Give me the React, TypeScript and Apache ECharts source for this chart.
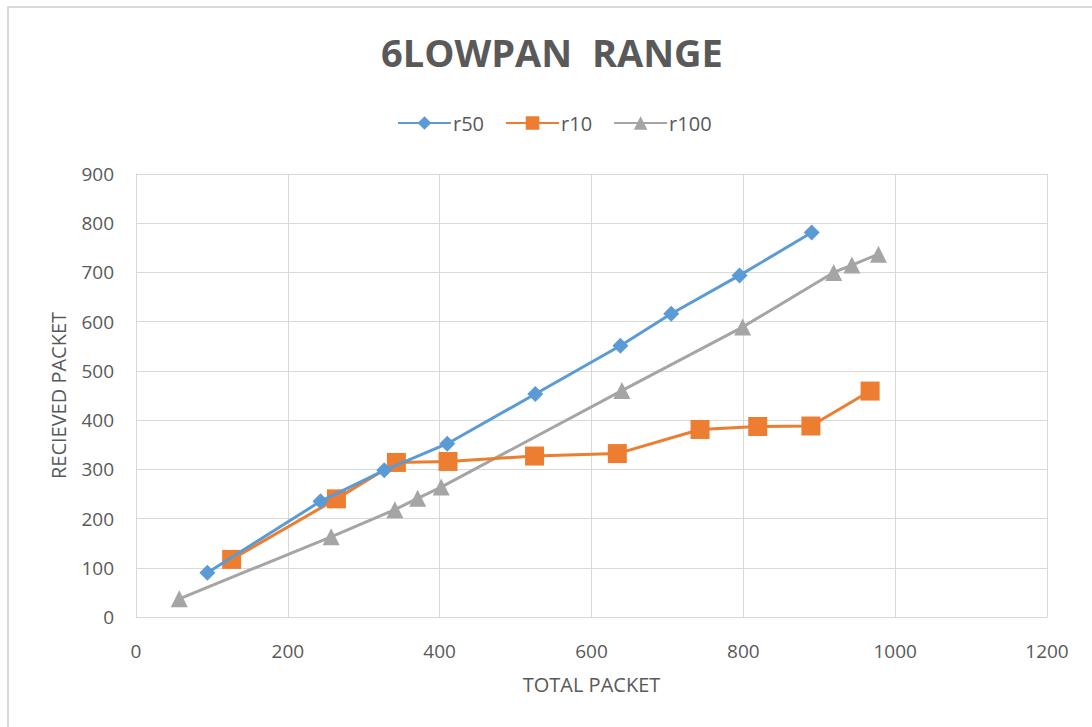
import React, { useEffect, useRef } from "react";
import * as echarts from "echarts";

const titleText = "6LOWPAN  RANGE";
const xAxisName = "TOTAL PACKET";
const yAxisName = "RECIEVED PACKET";
const seriesNames = ["r50", "r10", "r100"];

const r50: [number, number][] = [
  [94, 90], [243, 235], [327, 298], [410, 352], [526, 453],
  [638, 551], [705, 616], [795, 694], [890, 781],
];
const r10: [number, number][] = [
  [126, 117], [264, 240], [343, 314], [411, 316], [525, 327],
  [634, 332], [743, 381], [819, 387], [889, 388], [967, 459],
];
const r100: [number, number][] = [
  [57, 37], [257, 163], [341, 218], [371, 241], [402, 264],
  [640, 460], [799, 589], [919, 700], [943, 715], [978, 737],
];

const colors = ["#5B9BD5", "#ED7D31", "#A5A5A5"];
const symbols = ["diamond", "rect", "triangle"];
const symbolSizes = [16, 19, 17];

export default function App() {
  const ref = useRef<HTMLDivElement>(null);
  useEffect(() => {
    if (!ref.current) return;
    const chart = echarts.init(ref.current, undefined, { renderer: "svg" });
    const font = "'Open Sans', sans-serif";
    const datasets = [r50, r10, r100];
    chart.setOption({
      animation: false,
      backgroundColor: "#ffffff",
      textStyle: { fontFamily: font },
      title: {
        text: titleText,
        left: 376,
        top: 28,
        textStyle: { fontFamily: font, fontSize: 38, fontWeight: "bold", color: "#595959" },
      },
      legend: {
        left: 392,
        top: 108,
        itemWidth: 53,
        itemHeight: 17,
        itemGap: 21,
        textStyle: { fontFamily: font, fontSize: 20, color: "#595959", padding: [0, 0, 0, -3] },
        data: seriesNames,
      },
      grid: { left: 136, right: 45, top: 174, bottom: 110, containLabel: false },
      xAxis: {
        type: "value",
        min: 0,
        max: 1200,
        interval: 200,
        name: xAxisName,
        nameLocation: "middle",
        nameGap: 57,
        nameTextStyle: { fontFamily: font, fontSize: 20, color: "#595959" },
        axisLine: { show: true, lineStyle: { color: "#d9d9d9", width: 1 } },
        axisTick: { show: false },
        axisLabel: {
          fontFamily: font,
          fontSize: 19,
          color: "#595959",
          margin: 24,
          formatter: (v: number) => String(v),
        },
        splitLine: { show: true, lineStyle: { color: "#d9d9d9", width: 1 } },
      },
      yAxis: {
        type: "value",
        min: 0,
        max: 900,
        interval: 100,
        name: yAxisName,
        nameLocation: "middle",
        nameGap: 68,
        nameTextStyle: { fontFamily: font, fontSize: 20, color: "#595959" },
        axisLine: { show: true, lineStyle: { color: "#d9d9d9", width: 1 } },
        axisTick: { show: false },
        axisLabel: {
          fontFamily: font,
          fontSize: 19,
          color: "#595959",
          margin: 22,
          formatter: (v: number) => String(v),
        },
        splitLine: { show: true, lineStyle: { color: "#d9d9d9", width: 1 } },
      },
      graphic: [
        {
          type: "rect",
          shape: { x: 8, y: 7, width: 1200, height: 900 },
          style: { fill: "none", stroke: "#d9d9d9", lineWidth: 2 },
          silent: true,
        },
      ],
      series: seriesNames.map((name, i) => ({
        name,
        type: "line",
        data: datasets[i],
        symbol: symbols[i],
        symbolSize: symbolSizes[i],
        showAllSymbol: true,
        color: colors[i],
        lineStyle: { color: colors[i], width: 3 },
        itemStyle: { color: colors[i] },
        z: 3 - i,
      })),
    });
    return () => chart.dispose();
  }, []);
  return (
    <div
      ref={ref}
      style={{ position: "fixed", left: 0, top: 0, width: 1092, height: 727 }}
    />
  );
}
